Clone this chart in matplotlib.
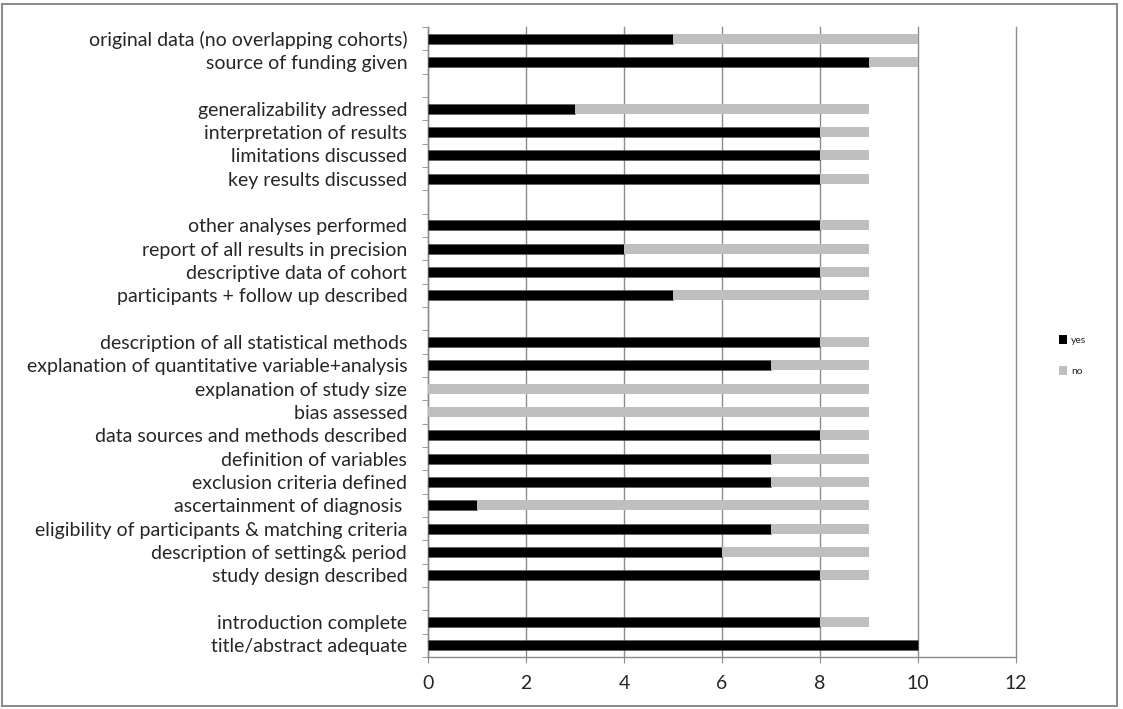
import numpy as np
import matplotlib
matplotlib.use('Agg')
import matplotlib.pyplot as plt
from matplotlib.patches import Rectangle, Patch

# 위에서 아래 순서, ''는 그룹 사이 빈 행
labels = [
    "original data (no overlapping cohorts)",
    "source of funding given",
    "",
    "generalizability adressed",
    "interpretation of results",
    "limitations discussed",
    "key results discussed",
    "",
    "other analyses performed",
    "report of all results in precision",
    "descriptive data of cohort",
    "participants + follow up described",
    "",
    "description of all statistical methods",
    "explanation of quantitative variable+analysis",
    "explanation of study size",
    "bias assessed",
    "data sources and methods described",
    "definition of variables",
    "exclusion criteria defined",
    "ascertainment of diagnosis ",
    "eligibility of participants & matching criteria",
    "description of setting& period",
    "study design described",
    "",
    "introduction complete",
    "title/abstract adequate",
]
nan = np.nan
yes = [5, 9, nan, 3, 8, 8, 8, nan, 8, 4, 8, 5, nan, 8, 7, 0, 0, 8, 7, 7, 1, 7, 6, 8, nan, 8, 10]
no = [5, 1, nan, 6, 1, 1, 1, nan, 1, 5, 1, 4, nan, 1, 2, 9, 9, 1, 2, 2, 8, 2, 3, 1, nan, 1, 0]
xticks = [0, 2, 4, 6, 8, 10, 12]

plt.rcParams['font.family'] = ['Lato', 'DejaVu Sans']
text_col = '#262626'
grid_col = '#8c8c8c'

fig = plt.figure(figsize=(11.23, 7.09), dpi=100)
ax = fig.add_axes([0.3811, 0.0733, 0.5236, 0.8886])

y = np.arange(len(labels))
yes_a = np.array(yes, dtype=float)
no_a = np.array(no, dtype=float)
ax.barh(y, yes_a, height=0.42, color='black', edgecolor='#555555', linewidth=0.4, label='yes', zorder=3)
ax.barh(y, no_a, left=yes_a, height=0.42, color='#bfbfbf', linewidth=0, label='no', zorder=3)

ax.set_ylim(len(labels) - 0.5, -0.5)
ax.set_xlim(0, 12)
ax.set_xticks(xticks)
ax.set_yticks(y)
ax.set_yticklabels(labels, fontsize=14, color=text_col)
ax.set_yticks(np.arange(-0.5, len(labels), 1), minor=True)
ax.tick_params(axis='y', which='major', length=0, pad=15)
ax.tick_params(axis='y', which='minor', length=4, color=grid_col, direction='out')
ax.tick_params(axis='x', length=4, color=grid_col, pad=9, labelsize=14, labelcolor=text_col)

ax.grid(axis='x', color=grid_col, linewidth=1, zorder=0)
for gl in ax.get_xgridlines():
    gl.set_clip_on(False)
for s in ['top', 'right']:
    ax.spines[s].set_visible(False)
for s in ['left', 'bottom']:
    ax.spines[s].set_color(grid_col)
    ax.spines[s].set_linewidth(1)

handles = [Patch(facecolor='black', edgecolor='none', label='yes'),
           Patch(facecolor='#bfbfbf', edgecolor='none', label='no')]
fig.legend(handles=handles, loc='center left', bbox_to_anchor=(0.935, 0.499),
           frameon=False, fontsize=7.5, handlelength=0.75, handleheight=1.0,
           handletextpad=0.4, labelspacing=2.0, labelcolor=text_col)

fig.patches.append(Rectangle((0.002, 0.004), 0.993, 0.99, transform=fig.transFigure,
                             fill=False, edgecolor='#8c8c8c', linewidth=1.5))

fig.savefig('out.png', dpi=100)
